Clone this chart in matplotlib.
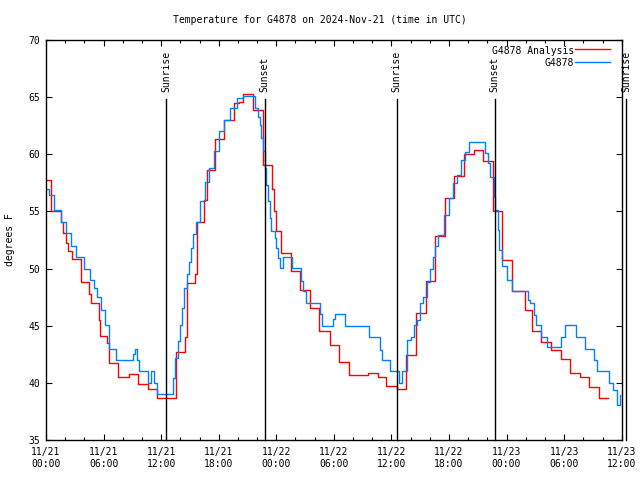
import matplotlib
matplotlib.use("Agg")
import matplotlib.pyplot as plt
from matplotlib.ticker import FixedLocator, MultipleLocator

# hours since 2024-11-21 00:00 UTC
red_hours = [0.0, 0.55, 1.55, 1.8, 2.05, 2.3, 2.7, 3.62, 4.49, 4.7, 5.53, 5.65,
             6.4, 6.6, 7.51, 8.66, 9.6, 10.67, 11.61, 13.53, 14.5, 14.65, 15.55,
             15.75, 16.5, 16.75, 17.64, 18.5, 19.55, 20.14, 20.53, 21.57, 22.6,
             23.55, 23.8, 24.0, 24.52, 25.57, 26.5, 27.55, 28.46, 29.56, 30.54,
             31.59, 33.6, 34.61, 35.41, 36.63, 37.49, 38.54, 39.58, 40.56, 41.6,
             42.54, 43.59, 44.56, 45.53, 46.57, 47.51, 48.56, 49.95, 50.64, 51.55,
             52.67, 53.71, 54.58, 55.62, 56.59, 57.6, 58.57]
red_temps = [57.75, 55.0, 54.1, 53.1, 52.2, 51.5, 50.8, 48.8, 47.8, 47.0, 45.5, 44.1,
             43.5, 41.7, 40.5, 40.8, 39.9, 39.5, 38.65, 42.7, 44.0, 48.7, 49.5,
             54.05, 56.0, 58.6, 61.3, 63.0, 64.5, 64.6, 65.27, 63.85, 59.1,
             57.0, 55.0, 53.25, 51.35, 49.75, 48.15, 46.55, 44.5, 43.35, 41.8,
             40.7, 40.85, 40.5, 39.7, 39.5, 42.4, 46.1, 48.9, 52.85, 56.15,
             58.1, 60.0, 60.4, 59.45, 55.0, 50.75, 48.0, 46.4, 44.5, 43.6,
             42.9, 42.1, 40.85, 40.55, 39.6, 38.7, 38.7]

blue_hours = [0.0, 0.28, 0.83, 1.57, 2.09, 2.58, 3.1, 3.97, 4.56, 5.0, 5.32, 5.71,
              6.13, 6.57, 7.27, 9.08, 9.29, 9.5, 9.7, 10.64, 10.9, 11.27, 11.55,
              13.28, 13.46, 13.74, 13.98, 14.22, 14.43, 14.68, 14.92, 15.13, 15.37,
              15.62, 16.07, 16.52, 17.01, 17.46, 17.98, 18.5, 19.2, 19.9, 20.5,
              21.81, 22.09, 22.26, 22.44, 22.61, 22.78, 22.96, 23.13, 23.3, 23.48,
              23.82, 24.0, 24.18, 24.42, 24.7, 25.67, 26.61, 26.79, 27.06, 28.52,
              28.73, 29.92, 30.13, 31.2, 33.71, 34.85, 35.06, 35.9, 36.8, 37.15,
              37.67, 38.01, 38.37, 38.71, 38.95, 39.24, 39.68, 40.04, 40.3, 40.55,
              40.83, 41.43, 41.95, 42.47, 42.81, 43.27, 43.69, 44.11, 45.78, 46.05,
              46.3, 46.72, 46.82, 47.06, 47.24, 47.51, 48.03, 48.56, 50.22, 50.4,
              50.82, 51.1, 51.62, 52.25, 53.71, 54.05, 55.27, 56.14, 57.08, 57.47,
              58.65, 59.09, 59.51, 59.79]
blue_temps = [57.0, 56.4, 55.1, 54.1, 53.1, 52.0, 51.0, 50.0, 49.0, 48.3, 47.5, 46.4,
              45.1, 43.0, 42.0, 42.5, 43.0, 42.0, 41.0, 39.95, 41.0, 40.0, 39.0,
              40.4, 42.2, 43.7, 45.1, 46.55, 48.3, 49.5, 50.6, 51.8, 53.0,
              54.1, 55.9, 57.6, 58.8, 60.3, 62.0, 63.0, 64.05, 64.9, 65.07,
              64.05, 63.3, 62.6, 61.4, 60.3, 58.8, 57.3, 55.9, 54.4, 53.25,
              52.7, 51.8, 50.9, 50.05, 51.0, 50.05, 48.9, 48.0, 47.0, 46.0,
              45.0, 45.6, 46.0, 45.0, 44.0, 42.9, 42.0, 41.0, 39.95, 41.0,
              43.75, 44.0, 45.1, 45.5, 47.0, 47.5, 48.85, 50.0, 51.0, 52.0,
              52.95, 54.7, 56.15, 57.45, 58.2, 59.5, 60.2, 61.05, 60.1, 59.2,
              58.05, 56.3, 55.1, 53.4, 51.6, 50.2, 49.0, 48.0, 47.25, 47.0,
              45.95, 45.1, 44.0, 43.1, 44.0, 45.1, 44.0, 43.0, 42.0, 41.0,
              39.95, 39.4, 38.05, 38.95]

event_hours = [12.55, 22.78, 36.56, 46.78, 60.5]
event_labels = ["Sunrise", "Sunset", "Sunrise", "Sunset", "Sunrise"]

tick_hours = [0, 6, 12, 18, 24, 30, 36, 42, 48, 54, 60]
tick_labels = ["11/21\n00:00", "11/21\n06:00", "11/21\n12:00", "11/21\n18:00",
               "11/22\n00:00", "11/22\n06:00", "11/22\n12:00", "11/22\n18:00",
               "11/23\n00:00", "11/23\n06:00", "11/23\n12:00"]

font = "DejaVu Sans Mono"
fs = 7
plt.rcParams["font.family"] = font
plt.rcParams["font.size"] = fs

fig = plt.figure(figsize=(6.4, 4.8), dpi=100)
ax = fig.add_axes([46 / 640, 40 / 480, 575.7 / 640, 400 / 480])

ax.plot(red_hours, red_temps, drawstyle="steps-post", color="#ff0000", lw=1.0)
ax.plot(blue_hours, blue_temps, drawstyle="steps-post", color="#0080ff", lw=1.0)

for h, lab in zip(event_hours, event_labels):
    ax.plot([h, h], [35, 64.83], color="black", lw=1.0, clip_on=False)
    ax.text(h, 65.45, lab, rotation=90, ha="center", va="bottom", fontsize=fs)

ax.set_xlim(0, 60)
ax.set_ylim(35, 70)
ax.xaxis.set_major_locator(FixedLocator(tick_hours))
ax.set_xticklabels(tick_labels)
ax.xaxis.set_minor_locator(MultipleLocator(2))
ax.yaxis.set_major_locator(MultipleLocator(5))
ax.tick_params(axis="both", which="major", direction="in", length=4,
               width=0.8, top=True, right=True, labelsize=fs)
ax.tick_params(axis="x", which="minor", direction="in", length=2.3,
               width=0.8, top=True)
ax.tick_params(axis="x", which="major", pad=5)
ax.tick_params(axis="y", which="major", pad=4)
for s in ax.spines.values():
    s.set_linewidth(1.0)

# legend drawn gnuplot style: text right-aligned, sample after it
ax.text(0.917, 0.973, "G4878 Analysis", transform=ax.transAxes, ha="right",
        va="center", fontsize=fs)
ax.plot([0.9196, 0.9797], [0.977, 0.977], transform=ax.transAxes,
        color="#ff0000", lw=1.0)
ax.text(0.917, 0.942, "G4878", transform=ax.transAxes, ha="right",
        va="center", fontsize=fs)
ax.plot([0.9196, 0.9797], [0.945, 0.945], transform=ax.transAxes,
        color="#0080ff", lw=1.0)

fig.text(0.5, 1 - 20 / 480, "Temperature for G4878 on 2024-Nov-21 (time in UTC)",
         ha="center", va="center", fontsize=fs)
fig.text(10 / 640, 0.5, "degrees F", rotation=90, ha="center", va="center",
         fontsize=fs)

fig.savefig("out.png", dpi=100)
